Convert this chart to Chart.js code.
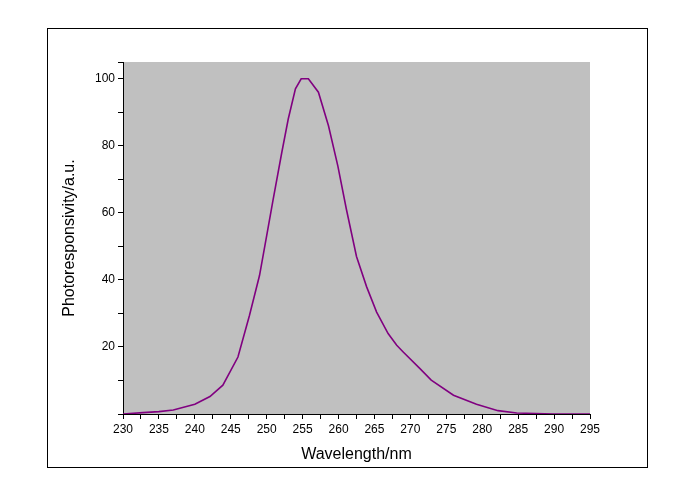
<!DOCTYPE html>
<html><head><script src="https://cdn.jsdelivr.net/npm/chart.js@4"></script>
<style>body{margin:0;background:#fff}#w{width:700px;height:500px}</style></head>
<body><div id="w"><canvas id="c"></canvas></div>
<script>
const wavelength=[230,232.8,235,237,240,242.1,243.9,246,247.6,249,250,250.9,252.1,253,254,254.8,255.8,257.2,258.6,259.9,261.1,262.5,263.9,265.3,266.9,268.1,269,271.3,272.9,276,279.2,282.2,284.8,290,295];
const response=[0,0.4,0.7,1.2,2.9,5.2,8.6,17,29.4,41.3,53.2,64,78,88,97,100,100,96,86,74,61,47,38,30.4,24,20.5,18.5,13.6,10.1,5.6,2.9,1,0.3,0,0];
const bg={id:'bg',beforeDraw(ch){const c=ch.ctx,a=ch.chartArea;c.save();c.fillStyle='#fff';c.fillRect(0,0,700,500);
c.strokeStyle='#000';c.lineWidth=1;c.strokeRect(47.5,28.5,600,439);
c.fillStyle='#c0c0c0';c.fillRect(a.left,a.top,a.right-a.left,a.bottom-a.top);c.restore();}};
new Chart(document.getElementById('c'),{type:'scatter',
data:{datasets:[{data:wavelength.map((x,i)=>({x,y:response[i]})),showLine:true,borderColor:'#800080',borderWidth:1.6,pointRadius:0,tension:0}]},
options:{responsive:true,maintainAspectRatio:false,animation:false,devicePixelRatio:1,
layout:{padding:{left:56,top:62,right:110,bottom:32}},
plugins:{legend:{display:false},tooltip:{enabled:false}},
scales:{
x:{min:230,max:295,afterFit(s){s.height=500-32-414},
ticks:{stepSize:2.5,autoSkip:false,maxRotation:0,color:'#000',font:{family:'Liberation Sans',size:12},callback:v=>v%5===0?v:''},
grid:{drawOnChartArea:false,color:'#000',tickLength:5},border:{color:'#000'},
title:{display:true,text:'Wavelength/nm',color:'#000',font:{family:'Liberation Sans',size:16},padding:{top:2}}},
y:{min:0,max:105,afterFit(s){s.width=123-56},
ticks:{stepSize:10,autoSkip:false,color:'#000',font:{family:'Liberation Sans',size:12},callback:v=>(v>0&&v%20===0)?v:''},
grid:{drawOnChartArea:false,color:'#000',tickLength:5},border:{color:'#000'},
title:{display:true,text:'Photoresponsivity/a.u.',color:'#000',font:{family:'Liberation Sans',size:16}}}}},
plugins:[bg]});
</script></body></html>
